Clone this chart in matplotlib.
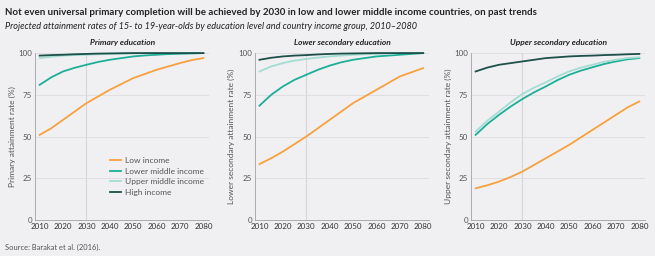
import matplotlib
matplotlib.use("Agg")
import matplotlib.pyplot as plt

years = [2010, 2015, 2020, 2025, 2030, 2035, 2040, 2045, 2050, 2055, 2060, 2065, 2070, 2075, 2080]
series_names = ["Low income", "Lower middle income", "Upper middle income", "High income"]
colors = ["#F7A13E", "#1DAE97", "#A4DDD2", "#1E4F49"]

primary = {
    "Low income":          [51, 55, 60, 65, 70, 74, 78, 81.5, 85, 87.5, 90, 92, 94, 95.8, 97],
    "Lower middle income": [81, 85.5, 89, 91.2, 93, 94.7, 96, 97, 98, 98.6, 99, 99.4, 99.6, 99.8, 100],
    "Upper middle income": [97, 97.8, 98.5, 98.8, 99, 99.3, 99.5, 99.7, 99.8, 99.9, 100, 100, 100, 100, 100],
    "High income":         [98.5, 98.8, 99, 99.3, 99.5, 99.7, 99.8, 99.9, 100, 100, 100, 100, 100, 100, 100],
}
lower_sec = {
    "Low income":          [33.5, 37, 41, 45.5, 50, 55, 60, 65, 70, 74, 78, 82, 86, 88.5, 91],
    "Lower middle income": [68.5, 75, 80, 84, 87, 90, 92.5, 94.5, 96, 97, 98, 98.5, 99, 99.5, 100],
    "Upper middle income": [89, 92, 94, 95.5, 96.5, 97.3, 98, 98.5, 99, 99.3, 99.5, 99.7, 100, 100, 100],
    "High income":         [96, 97.2, 98, 98.5, 98.8, 99.2, 99.5, 99.7, 99.8, 99.9, 100, 100, 100, 100, 100],
}
upper_sec = {
    "Low income":          [19, 20.8, 23, 25.8, 29, 33, 37, 41, 45, 49.5, 54, 58.5, 63, 67.5, 71],
    "Lower middle income": [51, 57.5, 63, 68, 72.5, 76.5, 80, 83.8, 87, 89.5, 91.5, 93.5, 95, 96.3, 97],
    "Upper middle income": [53, 59.5, 65, 70.5, 75.5, 79.3, 82.5, 86, 89, 91.3, 93, 94.8, 96, 97, 97.5],
    "High income":         [89, 91.3, 93, 94, 95, 96, 97, 97.5, 98, 98.3, 98.5, 98.8, 99, 99.3, 99.5],
}
panels = [
    ("Primary education", "Primary attainment rate (%)", primary),
    ("Lower secondary education", "Lower secondary attainment rate (%)", lower_sec),
    ("Upper secondary education", "Upper secondary attainment rate (%)", upper_sec),
]
yticks = [0, 25, 50, 75, 100]
xticks = [2010, 2020, 2030, 2040, 2050, 2060, 2070, 2080]

plt.rcParams['font.family'] = ['Lato', 'DejaVu Sans']
bg = "#F0F0F2"
fig = plt.figure(figsize=(6.55, 2.56), dpi=100, facecolor=bg)

lefts = [0.0534, 0.389, 0.719]
width = 0.266
bottom, height = 0.1406, 0.652

for i, (title, ylabel, data) in enumerate(panels):
    ax = fig.add_axes([lefts[i], bottom, width, height])
    ax.set_facecolor(bg)
    ax.set_xlim(2008, 2082.5)
    ax.set_ylim(0, 100)
    ax.set_yticks(yticks)
    ax.set_xticks(xticks)
    ax.grid(axis='y', color='#DCDCDE', lw=0.6)
    ax.axvline(2030, color='#D6D6D8', lw=0.8, zorder=1)
    for name, c in zip(series_names, colors):
        ax.plot(years, data[name], color=c, lw=1.3, label=name, clip_on=False, zorder=3)
    for s in ['top', 'right']:
        ax.spines[s].set_visible(False)
    for s in ['left', 'bottom']:
        ax.spines[s].set_color('#A0A0A0')
        ax.spines[s].set_linewidth(0.6)
    ax.tick_params(length=0, labelsize=5.8, colors='#555555', pad=2)
    for lab in ax.get_xticklabels():
        lab.set_color('#333333')
    ax.set_ylabel(ylabel, fontsize=6, color='#555555', labelpad=2)
    ax.set_title(title, fontsize=6, fontweight='bold', style='italic', color='#222222', pad=6)
    if i == 0:
        ax.legend(loc='lower right', bbox_to_anchor=(1.0, 0.115), frameon=False, fontsize=6,
                  handlelength=1.3, handletextpad=0.5, labelspacing=0.42,
                  labelcolor='#555555', borderaxespad=0.2)

fig.text(0.008, 0.97, "Not even universal primary completion will be achieved by 2030 in low and lower middle income countries, on past trends",
         fontsize=7.05, fontweight='bold', color='#222222', va='top', ha='left')
fig.text(0.008, 0.915, "Projected attainment rates of 15- to 19-year-olds by education level and country income group, 2010\u20132080",
         fontsize=6.55, style='italic', color='#222222', va='top', ha='left')
fig.text(0.008, 0.035, "Source: Barakat et al. (2016).", fontsize=5.4, color='#555555', va='center', ha='left')

fig.savefig("out.png", dpi=100, facecolor=bg)
